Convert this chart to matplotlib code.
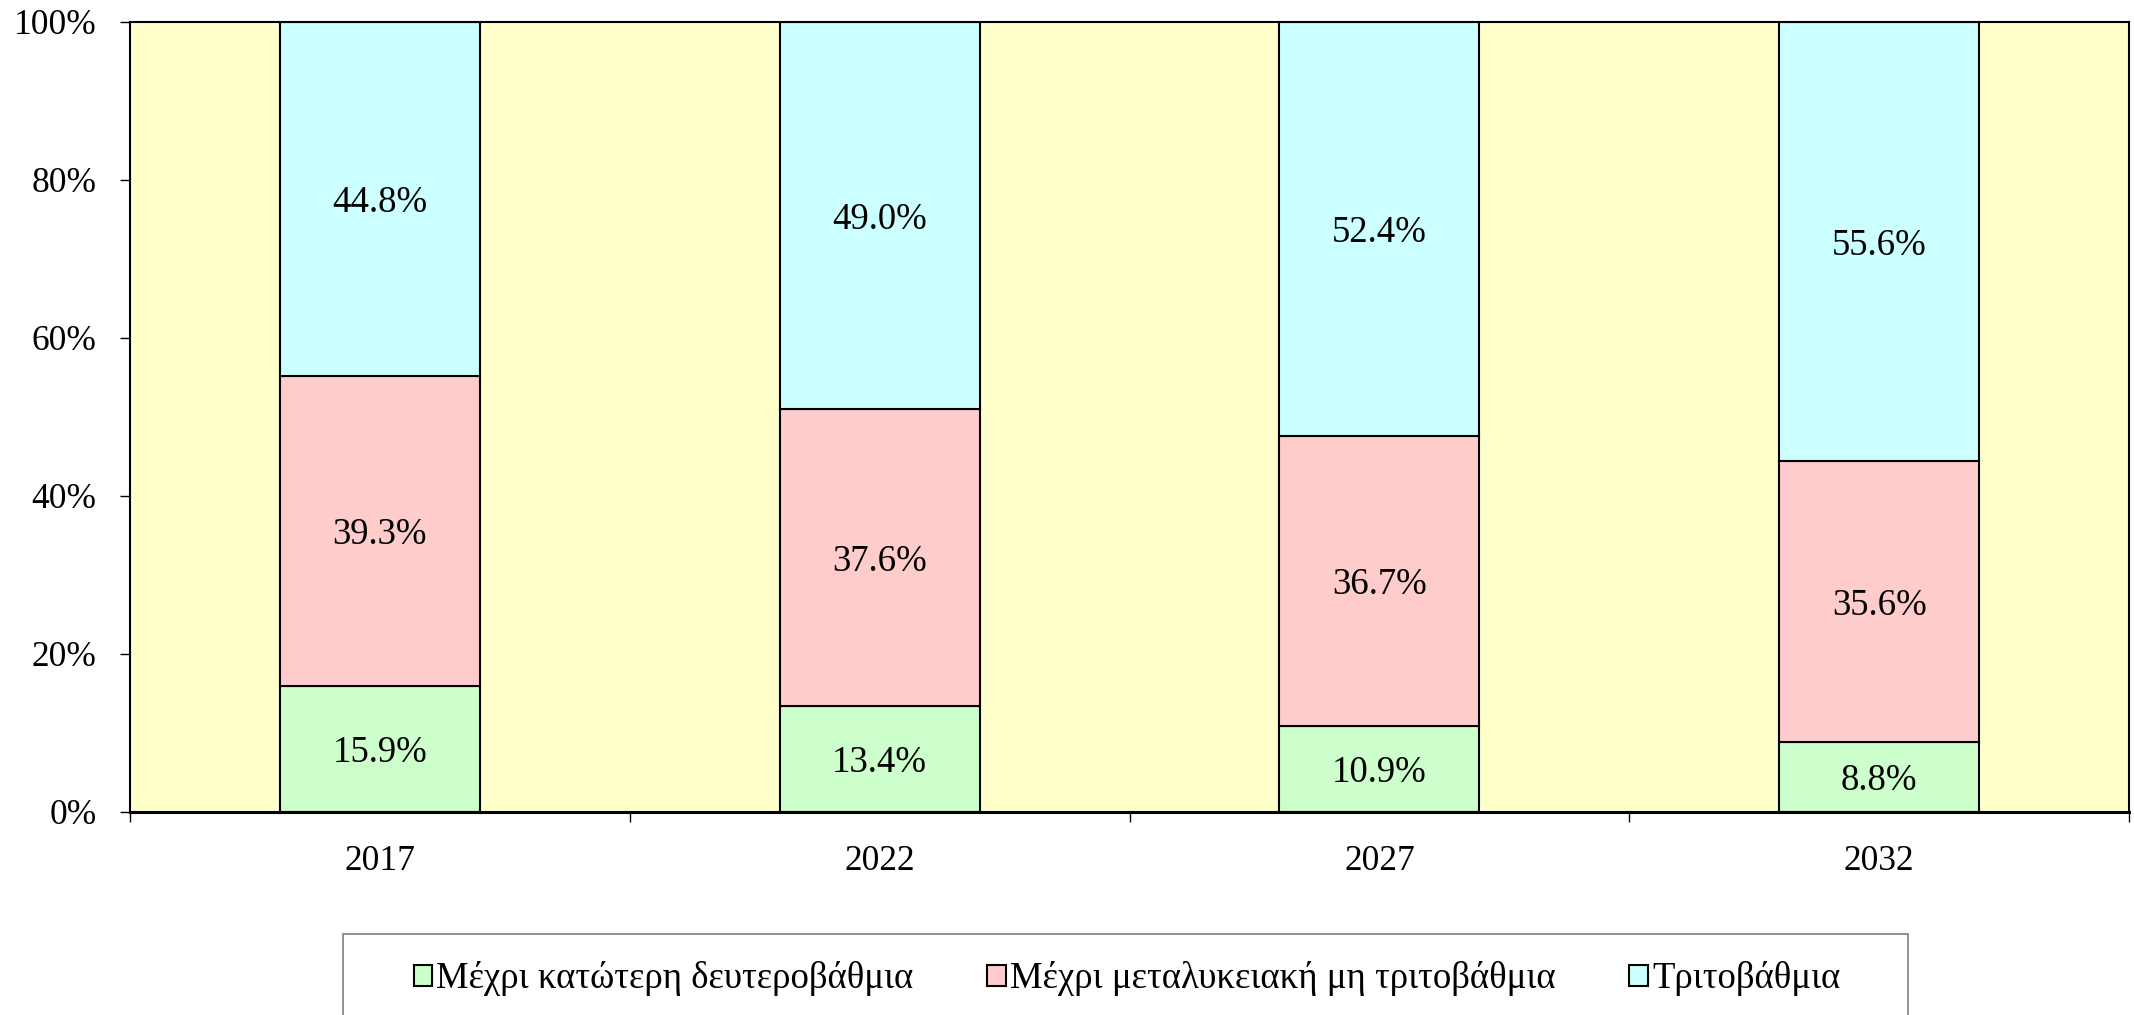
import matplotlib.pyplot as plt
from matplotlib.patches import Rectangle
import numpy as np

# data
years = ['2017', '2022', '2027', '2032']
lower_secondary = [15.9, 13.4, 10.9, 8.8]
post_secondary = [39.3, 37.6, 36.7, 35.6]
tertiary = [44.8, 49.0, 52.4, 55.6]
series_names = ['Μέχρι κατώτερη δευτεροβάθμια',
                'Μέχρι μεταλυκειακή μη τριτοβάθμια',
                'Τριτοβάθμια']
colors = ['#CCFFCC', '#FFCCCC', '#CCFFFF']

plt.rcParams['font.family'] = ['Liberation Serif', 'DejaVu Serif']

fig = plt.figure(figsize=(21.34, 10.15), dpi=100)
ax = fig.add_axes([130 / 2134, 1 - 812 / 1015, (2129 - 130) / 2134, (812 - 22) / 1015])
ax.set_facecolor('#FFFFCC')

x = np.arange(len(years))
bottom = np.zeros(len(years))
handles = []
for vals, name, col in zip([lower_secondary, post_secondary, tertiary], series_names, colors):
    vals = np.array(vals)
    bars = ax.bar(x, vals, 0.4, bottom=bottom, color=col, edgecolor='black',
                  linewidth=1.5, label=name)
    handles.append(bars)
    for xi, b, v in zip(x, bottom, vals):
        ax.text(xi, b + v / 2, f'{v:.1f}%', ha='center', va='center_baseline', fontsize=26.5)
    bottom += vals

ax.set_xlim(-0.5, len(years) - 0.5)
ax.set_ylim(0, 100)
ax.set_yticks(range(0, 101, 20))
ax.set_yticklabels([f'{v}%' for v in range(0, 101, 20)])
ax.tick_params(axis='y', labelsize=25.5, length=7.2, width=1, pad=17)

# categories labelled at centres, tick marks at the boundaries
ax.set_xticks(np.arange(-0.5, len(years), 1.0))
ax.set_xticklabels([])
ax.tick_params(axis='x', length=7.2, width=1)
ax.set_xticks(x, minor=True)
ax.set_xticklabels(years, minor=True)
ax.tick_params(axis='x', which='minor', length=0, labelsize=25.5, pad=24)

for s in ax.spines.values():
    s.set_linewidth(1.5)
ax.spines['bottom'].set_linewidth(2.2)

# legend frame (runs past the bottom of the image)
fig.patches.append(Rectangle((343 / 2134, -0.05), (1908 - 343) / 2134, 0.05 + 1 - 934 / 1015,
                             transform=fig.transFigure, facecolor='white',
                             edgecolor='#808080', linewidth=1.2))
fig.legend(handles=handles, loc='center', bbox_to_anchor=(1127 / 2134, 1 - 979 / 1015),
           ncol=3, frameon=False, fontsize=26.5, handlelength=0.5, handleheight=0.5,
           handletextpad=0.12, columnspacing=2.0)

fig.savefig('out.png', dpi=100)
